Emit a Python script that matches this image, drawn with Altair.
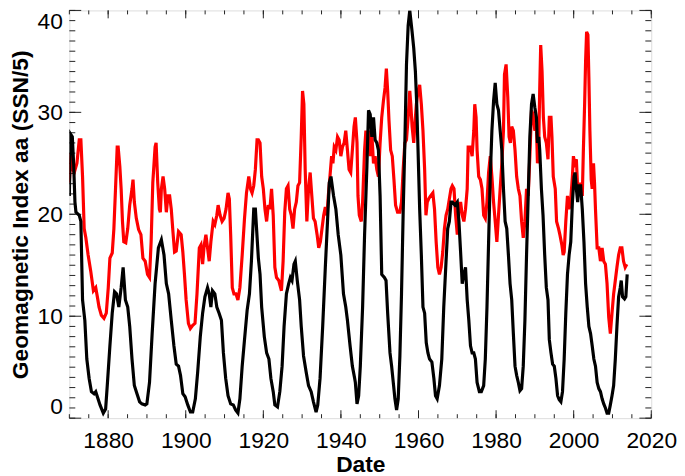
import altair as alt
import pandas as pd

# ---- Black curve: sunspot number / 5 ----
ssn_years = [
    1870.00, 1870.25, 1870.76, 1871.10, 1871.44, 1871.70, 1872.55, 1872.97, 1873.40, 1873.99,
    1874.50, 1875.10, 1875.69, 1876.37, 1876.80, 1877.22, 1877.90, 1878.75, 1879.35, 1879.77,
    1880.45, 1881.05, 1881.65, 1882.16, 1882.75, 1883.35, 1883.86, 1884.45, 1885.05, 1885.56,
    1886.15, 1886.75, 1887.43, 1888.11, 1888.70, 1889.55, 1889.98, 1890.66, 1891.34, 1892.10,
    1892.95,
    1893.72, 1894.40, 1895.00, 1895.59, 1896.27, 1896.95, 1897.55, 1898.14, 1898.65, 1899.25,
    1899.84, 1900.52, 1901.20, 1901.80, 1902.48, 1903.07, 1903.75, 1904.35, 1904.94, 1905.62,
    1906.05, 1906.48, 1906.90, 1907.50, 1908.01, 1908.60, 1909.20, 1909.71, 1910.30, 1910.90,
    1911.58, 1912.26, 1912.85, 1913.45, 1913.96, 1914.55, 1915.15, 1915.83, 1916.42, 1916.93,
    1917.53, 1917.95,
    1918.72, 1919.15, 1919.57, 1920.25, 1920.85, 1921.44, 1921.95, 1922.55, 1922.97, 1923.65,
    1924.25, 1924.84, 1925.35, 1925.95, 1926.54, 1926.97, 1927.39, 1927.90, 1928.24, 1928.75,
    1929.35, 1929.77, 1930.37, 1931.05, 1931.65, 1932.33, 1932.92, 1933.60, 1934.03, 1934.62,
    1935.30, 1935.98, 1936.58, 1937.00, 1937.43, 1938.11, 1938.70, 1939.30, 1939.98, 1940.66,
    1941.25, 1941.68, 1942.36, 1942.95, 1943.55,
    1943.72, 1944.15, 1944.57, 1945.00, 1945.59, 1946.10, 1946.70, 1947.12, 1947.55, 1947.97,
    1948.40, 1948.82, 1949.25, 1949.67, 1950.10, 1950.52, 1951.20, 1951.63, 1952.05, 1952.65,
    1953.07, 1953.58, 1953.92, 1954.35, 1954.77, 1955.20, 1955.62, 1956.05, 1956.48, 1956.90,
    1957.33, 1957.75, 1958.35, 1958.77, 1959.20, 1959.54, 1959.88, 1960.30, 1960.73, 1961.15,
    1961.58, 1962.00, 1962.43, 1962.85, 1963.45, 1963.96, 1964.38, 1964.81, 1965.40, 1966.00,
    1966.51, 1967.10, 1967.53, 1967.95, 1968.38,
    1968.72, 1969.40, 1970.00, 1970.42, 1970.85, 1971.27, 1971.70, 1972.12, 1972.55, 1972.97,
    1973.40, 1973.82, 1974.25, 1974.67, 1975.10, 1975.69, 1976.20, 1976.80, 1977.22, 1977.65,
    1978.07, 1978.50, 1978.92, 1979.35, 1979.77, 1980.20, 1980.62, 1981.05, 1981.48, 1981.90,
    1982.33, 1982.75, 1983.18, 1983.60, 1984.03, 1984.45, 1984.88, 1985.30, 1985.73, 1986.15,
    1986.58, 1987.00, 1987.43, 1987.85, 1988.28, 1988.70, 1989.13, 1989.55, 1989.98, 1990.40,
    1990.66, 1991.00, 1991.25, 1991.68, 1992.10, 1992.53, 1992.95, 1993.38,
    1993.72, 1994.15, 1994.57, 1995.00, 1995.42, 1995.85, 1996.27, 1996.70, 1997.12, 1997.55,
    1997.97, 1998.40, 1998.82, 1999.25, 1999.67, 2000.10, 2000.35, 2000.69, 2001.03, 2001.37,
    2001.80, 2002.22, 2002.65, 2003.07, 2003.50, 2003.92, 2004.35, 2004.77, 2005.20, 2005.62,
    2006.05, 2006.48, 2006.90, 2007.33, 2007.75, 2008.18, 2008.60, 2009.03, 2009.45, 2009.88,
    2010.30, 2010.73, 2011.15, 2011.58, 2012.00, 2012.26, 2012.60, 2013.11, 2013.45, 2013.79,
]
ssn_values = [
    21.8, 27.9, 27.6, 25.0, 21.2, 20.2, 19.9, 19.3, 11.6, 9.6,
    5.8, 3.9, 2.6, 2.4, 2.6, 2.1, 1.3, 0.5, 0.9, 3.2,
    7.1, 10.3, 12.4, 12.2, 10.9, 12.8, 14.8, 11.6, 10.9, 9.0,
    5.8, 3.2, 2.4, 1.6, 1.4, 1.3, 1.4, 3.5, 8.3, 13.2,
    16.7,
    17.5, 16.0, 13.2, 12.2, 9.6, 7.1, 5.3, 5.1, 4.2, 2.4,
    2.1, 1.3, 0.6, 0.6, 1.9, 4.5, 8.0, 10.3, 11.9, 12.8,
    12.2, 10.9, 12.5, 12.2, 10.9, 10.3, 9.6, 6.4, 3.9, 2.2,
    1.4, 1.3, 0.8, 0.5, 1.9, 5.1, 7.7, 10.6, 12.2, 15.4,
    20.5, 20.5,
    15.7, 14.1, 10.9, 8.0, 6.4, 5.8, 3.9, 2.6, 1.3, 1.1,
    2.6, 5.1, 9.0, 12.2, 13.2, 13.8, 13.5, 15.1, 15.4, 13.5,
    11.6, 9.0, 6.1, 4.5, 3.2, 2.6, 1.6, 0.6, 1.3, 3.9,
    9.0, 14.8, 19.6, 23.1, 23.7, 21.8, 20.5, 18.0, 16.0, 12.2,
    10.9, 9.6, 7.1, 5.1, 3.9,
    3.5, 1.4, 2.2, 5.1, 10.9, 18.0, 24.7, 30.2, 29.8, 27.6,
    29.5, 27.3, 27.0, 26.3, 21.8, 14.1, 13.8, 13.5, 10.3, 6.4,
    5.1, 3.2, 1.9, 0.8, 1.9, 6.1, 12.2, 20.2, 27.0, 34.7,
    38.5, 40.0, 37.9, 36.3, 34.0, 30.8, 26.3, 20.5, 16.0, 10.9,
    10.3, 7.4, 6.4, 5.8, 5.5, 3.9, 2.2, 1.9, 3.2, 5.8,
    10.9, 15.4, 18.6, 19.3, 21.2,
    21.2, 20.9, 21.2, 19.3, 16.3, 13.2, 14.1, 14.8, 11.6, 9.6,
    7.1, 6.4, 6.4, 5.8, 3.5, 2.6, 2.6, 3.2, 5.8, 10.9,
    17.3, 23.7, 28.2, 31.1, 32.9, 30.8, 30.2, 28.2, 26.3, 22.5,
    19.3, 18.6, 16.0, 13.2, 11.6, 8.3, 5.1, 4.2, 3.5, 2.7,
    2.9, 5.1, 9.6, 16.0, 21.8, 27.6, 30.8, 31.8, 30.5, 29.5,
    27.0, 27.6, 26.3, 22.5, 19.9, 16.0, 12.8, 11.6,
    7.7, 6.4, 5.3, 5.1, 3.9, 2.2, 1.8, 1.6, 2.6, 5.8,
    10.3, 14.1, 16.0, 17.3, 21.2, 23.7, 24.1, 22.5, 21.2, 22.8,
    22.8, 20.5, 17.3, 13.2, 10.9, 9.0, 8.3, 7.1, 5.8, 5.1,
    3.5, 2.9, 2.6, 1.9, 1.4, 1.0, 0.5, 0.5, 1.3, 2.2,
    3.2, 5.8, 9.0, 11.9, 12.8, 13.5, 11.9, 11.7, 11.9, 14.1,
]

# ---- Red curve: geomagnetic aa index ----
aa_years = [
    1870.00, 1870.42, 1870.85, 1871.27, 1871.95, 1872.55, 1872.97, 1873.40, 1873.82, 1874.25,
    1874.84, 1875.52, 1876.20, 1876.80, 1877.22, 1877.65, 1878.24, 1878.92, 1879.52, 1880.03,
    1880.45, 1881.05, 1881.48, 1881.90, 1882.33, 1882.58, 1883.01, 1883.35, 1883.69, 1884.03,
    1884.54, 1885.05, 1885.56, 1886.15, 1886.41, 1886.75, 1887.26, 1887.85, 1888.45, 1888.96,
    1889.55, 1890.15, 1890.66, 1891.08, 1891.51, 1892.10, 1892.36, 1892.78, 1893.21, 1893.45,
    1893.72, 1894.15, 1894.57, 1895.00, 1895.42, 1895.85, 1896.27, 1896.70, 1897.12, 1897.55,
    1898.14, 1898.82, 1899.25, 1899.67, 1900.10, 1900.69, 1901.20, 1901.80, 1902.39, 1902.90,
    1903.50, 1903.92, 1904.35, 1904.77, 1905.20, 1905.62, 1906.05, 1906.48, 1907.07, 1907.50,
    1908.01, 1908.35, 1908.86, 1909.37, 1909.88, 1910.39, 1910.90, 1911.24, 1911.58, 1912.00,
    1912.43, 1912.94, 1913.45, 1913.96, 1914.55, 1915.15, 1915.66, 1916.25, 1916.68, 1917.10,
    1917.53, 1917.95, 1918.38,
    1918.72, 1919.15, 1919.57, 1920.00, 1920.42, 1920.85, 1921.27, 1921.70, 1922.12, 1922.55,
    1922.97, 1923.40, 1923.99, 1924.67, 1925.10, 1925.52, 1925.95, 1926.37, 1926.80, 1927.22,
    1927.65, 1928.07, 1928.50, 1928.92, 1929.35, 1929.77, 1930.11, 1930.45, 1930.79, 1931.22,
    1931.65, 1932.07, 1932.50, 1932.92, 1933.35, 1933.86, 1934.28, 1934.71, 1935.13, 1935.56,
    1935.98, 1936.41, 1936.75, 1937.17, 1937.60, 1937.94, 1938.28, 1938.70, 1939.13, 1939.55,
    1939.98, 1940.40, 1940.83, 1941.25, 1941.68, 1942.10, 1942.53, 1942.95, 1943.38,
    1943.72, 1944.15, 1944.40, 1944.74, 1945.25, 1945.59, 1946.10, 1946.44, 1946.78, 1947.12,
    1947.55, 1947.97, 1948.40, 1948.82, 1949.25, 1949.67, 1950.10, 1950.52, 1950.95, 1951.37,
    1951.71, 1952.05, 1952.39, 1952.82, 1953.24, 1953.67, 1954.09, 1954.60, 1955.20, 1955.62,
    1956.05, 1956.48, 1956.90, 1957.33, 1957.75, 1958.01, 1958.35, 1958.77, 1959.03, 1959.45,
    1959.88, 1960.30, 1960.73, 1961.15, 1961.58, 1961.92, 1962.26, 1962.60, 1963.11, 1963.70,
    1964.13, 1964.55, 1964.98, 1965.40, 1965.83, 1966.25, 1966.68, 1967.10, 1967.53, 1967.95,
    1968.38,
    1968.72, 1969.15, 1969.57, 1970.00, 1970.42, 1970.85, 1971.27, 1971.70, 1972.12, 1972.55,
    1972.80, 1973.40, 1973.82, 1974.25, 1974.50, 1974.84, 1975.10, 1975.52, 1975.95, 1976.37,
    1976.80, 1977.22, 1977.65, 1978.07, 1978.50, 1978.92, 1979.35, 1979.77, 1980.20, 1980.62,
    1981.05, 1981.48, 1981.90, 1982.16, 1982.58, 1983.01, 1983.35, 1983.69, 1984.03, 1984.45,
    1984.88, 1985.30, 1985.73, 1986.15, 1986.58, 1987.00, 1987.43, 1987.85, 1988.28, 1988.70,
    1989.13, 1989.55, 1989.98, 1990.40, 1990.66, 1991.00, 1991.25, 1991.50, 1991.85, 1992.19,
    1992.53, 1992.95, 1993.38,
    1993.72, 1994.15, 1994.40, 1994.74, 1995.25, 1995.59, 1996.10, 1996.44, 1996.95, 1997.29,
    1997.55, 1997.97, 1998.40, 1998.82, 1999.25, 1999.67, 1999.93, 2000.27, 2000.69, 2001.03,
    2001.37, 2001.80, 2002.22, 2002.48, 2002.82, 2003.07, 2003.33, 2003.67, 2003.92, 2004.18,
    2004.52, 2004.77, 2005.11, 2005.37, 2005.62, 2006.05, 2006.48, 2006.90, 2007.33, 2007.75,
    2008.18, 2008.60, 2009.03, 2009.45, 2009.88, 2010.30, 2010.73, 2011.15, 2011.58, 2012.00,
    2012.43, 2012.85, 2013.28, 2013.70,
]
aa_values = [
    23.1, 26.0, 24.4, 24.1, 25.0, 27.3, 27.3, 23.7, 18.6, 17.7,
    16.0, 14.4, 12.5, 12.8, 11.9, 10.9, 10.1, 9.8, 10.3, 12.8,
    15.7, 16.2, 18.6, 22.5, 26.6, 26.6, 24.7, 22.5, 19.3, 17.3,
    17.2, 18.6, 20.9, 22.5, 23.4, 21.2, 19.6, 18.5, 18.0, 15.7,
    15.4, 14.1, 13.8, 17.3, 23.1, 26.6, 27.0, 23.1, 20.5, 20.2,
    22.5, 23.7, 22.5, 20.2, 21.8, 21.8, 20.5, 18.3, 16.3, 16.4,
    18.3, 18.0, 16.3, 14.1, 11.6, 9.3, 8.8, 9.1, 9.3, 12.2,
    16.7, 17.0, 15.1, 17.0, 18.0, 16.7, 15.4, 17.3, 19.3, 19.0,
    19.9, 20.9, 19.9, 19.3, 19.6, 20.5, 22.1, 21.5, 18.0, 12.8,
    12.2, 12.2, 11.6, 12.8, 16.0, 19.6, 22.1, 23.7, 22.5, 22.1,
    22.8, 24.4, 27.3,
    27.3, 27.0, 23.7, 22.5, 20.5, 19.3, 20.9, 20.5, 22.5, 19.9,
    14.8, 13.8, 13.5, 12.5, 15.4, 20.2, 22.5, 22.8, 20.5, 19.9,
    18.6, 20.5, 21.2, 22.8, 23.1, 27.6, 32.1, 30.8, 24.4, 19.3,
    22.5, 24.1, 21.8, 19.6, 19.3, 18.0, 16.7, 17.3, 18.6, 19.9,
    20.7, 19.9, 21.8, 23.7, 25.7, 25.0, 26.6, 26.3, 27.6, 27.3,
    25.7, 26.6, 27.0, 28.2, 26.3, 24.4, 24.1, 26.3, 28.6,
    29.5, 27.0, 21.8, 19.9, 19.3, 21.2, 26.3, 28.2, 27.0, 28.2,
    25.7, 27.9, 25.0, 25.7, 24.4, 23.7, 27.0, 29.5, 31.1, 32.4,
    34.3, 32.1, 29.2, 26.3, 25.7, 23.4, 20.9, 20.2, 20.2, 21.2,
    24.4, 27.0, 27.3, 29.5, 32.1, 30.8, 28.6, 27.0, 28.6, 30.8,
    32.1, 32.7, 30.8, 28.2, 24.4, 19.9, 21.2, 21.5, 21.8, 22.1,
    20.5, 17.3, 14.8, 14.1, 14.8, 16.3, 18.6, 19.9, 20.5, 21.5,
    22.5,
    22.8, 22.5, 19.9, 18.0, 20.5, 21.2, 19.9, 19.3, 20.5, 22.5,
    26.6, 26.6, 25.7, 28.2, 30.8, 29.5, 26.3, 23.7, 23.4, 22.5,
    19.9, 19.6, 21.2, 24.1, 25.7, 23.7, 21.2, 19.3, 17.3, 19.9,
    22.5, 25.0, 28.2, 33.7, 34.7, 31.5, 27.6, 27.0, 28.6, 28.2,
    26.3, 23.7, 22.5, 21.8, 19.3, 17.7, 19.3, 22.5, 21.8, 25.7,
    30.2, 29.8, 28.2, 28.6, 25.0, 27.0, 32.4, 36.6, 34.0, 29.5,
    27.6, 27.0, 25.4,
    29.5, 29.5, 27.6, 23.7, 22.5, 19.3, 18.6, 18.0, 17.0, 16.0,
    16.3, 19.3, 21.8, 20.5, 21.5, 23.7, 25.7, 25.0, 25.4, 22.5,
    21.8, 23.1, 21.8, 26.0, 30.8, 35.0, 37.9, 37.6, 33.4, 28.2,
    23.4, 22.5, 25.0, 23.1, 20.5, 16.7, 16.7, 15.4, 16.7, 15.4,
    15.1, 13.2, 9.9, 8.3, 10.3, 12.2, 13.5, 14.8, 16.0, 16.7,
    16.7, 15.4, 14.8, 15.1,
]

# ---- Axis ticks ----
x_label_years = [1880, 1900, 1920, 1940, 1960, 1980, 2000, 2020]
x_minor_years = [1870, 1875, 1880, 1885, 1890, 1895, 1900, 1905, 1910, 1915, 1920,
                 1925, 1930, 1935, 1940, 1945, 1950, 1955, 1960, 1965, 1970, 1975,
                 1980, 1985, 1990, 1995, 2000, 2005, 2010, 2015, 2020]
y_label_values = [0, 10, 20, 30, 40]
y_minor_values = [0, 1, 2, 3, 4, 5, 6, 7, 8, 9, 10, 11, 12, 13, 14, 15, 16, 17, 18, 19, 20,
                  21, 22, 23, 24, 25, 26, 27, 28, 29, 30, 31, 32, 33, 34, 35, 36, 37, 38, 39, 40]

W, H = 588, 412
FONT = "Liberation Sans"

x_scale = alt.Scale(domain=[1870, 2020], nice=False, zero=False)
y_scale = alt.Scale(domain=[0, 40], nice=False, zero=False)

x_axis = alt.Axis(values=x_label_years, format="d", ticks=False, domain=False, grid=False,
                  labelFontSize=23, labelPadding=12, labelOverlap=False, labelFlush=False,
                  labelFont=FONT, labelColor="black", title="Date", titleFont=FONT,
                  titleFontSize=23, titleFontWeight="bold", titleColor="black", titleY=35.5)
y_axis = alt.Axis(values=y_label_values, format="d", ticks=False, domain=False, grid=False,
                  labelFontSize=23, labelPadding=7, labelFlush=True,
                  labelOverlap=False, labelFont=FONT, labelColor="black",
                  title="Geomagnetic Index aa (SSN/5)", titleFont=FONT, titleFontSize=23,
                  titleFontWeight="bold", titleColor="black", titleX=-37)

x_enc = alt.X("Date:Q", scale=x_scale, axis=x_axis)
y_enc = alt.Y("Value:Q", scale=y_scale, axis=y_axis)

ssn_df = pd.DataFrame({"Date": ssn_years, "Value": ssn_values})
aa_df = pd.DataFrame({"Date": aa_years, "Value": aa_values})
xmaj_df = pd.DataFrame({"Date": x_label_years})
xmin_df = pd.DataFrame({"Date": x_minor_years})
ymaj_df = pd.DataFrame({"Value": y_label_values})
ymin_df = pd.DataFrame({"Value": y_minor_values})

TICK = "#222222"

def yticks(df, length):
    left = alt.Chart(df).mark_rule(color=TICK, strokeWidth=1).encode(
        y=y_enc, x=alt.value(0), x2=alt.value(length))
    right = alt.Chart(df).mark_rule(color=TICK, strokeWidth=1).encode(
        y=y_enc, x=alt.value(W - length), x2=alt.value(W))
    return [left, right]

def xticks(df, length):
    bottom = alt.Chart(df).mark_rule(color=TICK, strokeWidth=1).encode(
        x=x_enc, y=alt.value(H), y2=alt.value(H - length))
    top = alt.Chart(df).mark_rule(color=TICK, strokeWidth=1).encode(
        x=x_enc, y=alt.value(0), y2=alt.value(length))
    return [bottom, top]

aa_line = alt.Chart(aa_df).mark_line(color="#ff0000", strokeWidth=3.2, clip=True).encode(
    x=x_enc, y=y_enc, order="Date:Q")
ssn_line = alt.Chart(ssn_df).mark_line(color="black", strokeWidth=3.2, clip=True).encode(
    x=x_enc, y=y_enc, order="Date:Q")

layers = (yticks(ymin_df, 6) + yticks(ymaj_df, 12) + xticks(xmin_df, 4) + xticks(xmaj_df, 8)
          + [aa_line, ssn_line])

chart = alt.layer(*layers).properties(
    width=W, height=H,
    autosize=alt.AutoSizeParams(type="none"),
    padding={"left": 62, "top": 0, "right": 26, "bottom": 56},
).configure_view(stroke="#777777", strokeWidth=1).configure(background="white")

chart.save("out.html", embed_options={"renderer": "svg", "actions": False})
